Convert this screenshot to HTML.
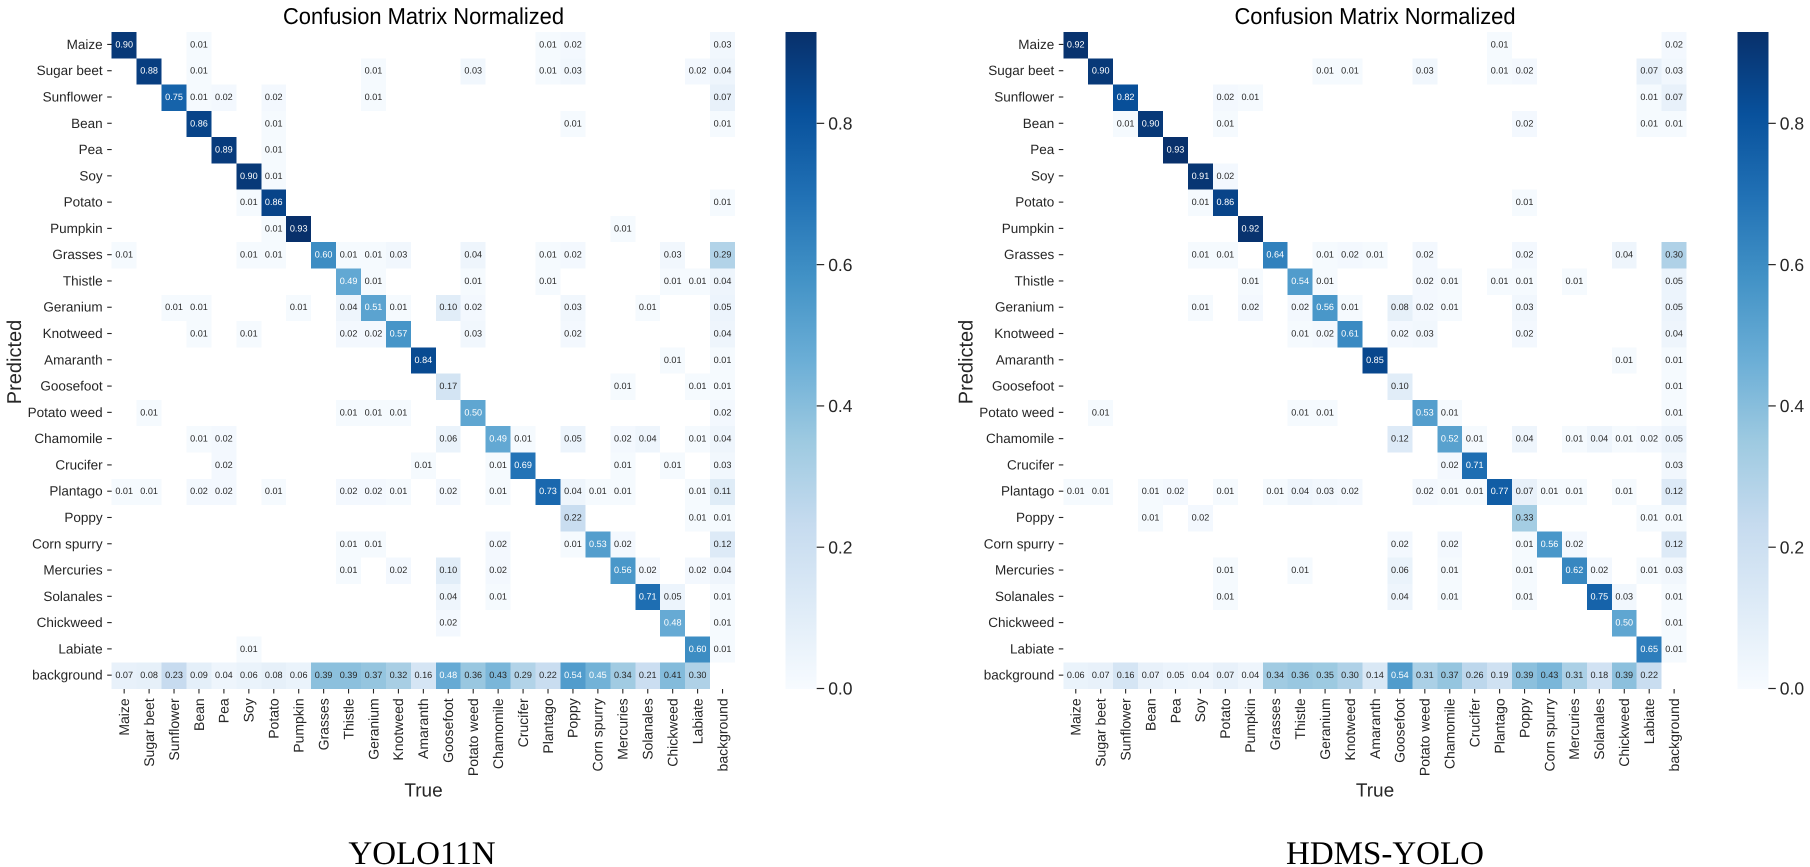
<!DOCTYPE html>
<html lang="en">
<head>
<meta charset="utf-8">
<title>Confusion matrices: YOLO11N and HDMS-YOLO</title>
<style>
html,body{margin:0;padding:0;background:#fff;width:1810px;height:867px;overflow:hidden}
svg{display:block;text-rendering:geometricPrecision}
text{font-family:"Liberation Sans",Arial,sans-serif;fill:#262626}
.title{fill:#000}
.cap{font-family:"Liberation Serif","Times New Roman",serif;font-size:33px;fill:#000}
</style>
</head>
<body>
<svg id="figure" xmlns="http://www.w3.org/2000/svg" width="1810" height="867" viewBox="0 0 1810 867">
  <rect x="0" y="0" width="1810" height="867" fill="#ffffff"/>
  <defs>
    <linearGradient id="blues" x1="0" y1="1" x2="0" y2="0"></linearGradient>
  </defs>
  <g id="chart-left">
    <text class="title" x="423.5" y="24" text-anchor="middle" font-size="23" textLength="281" lengthAdjust="spacingAndGlyphs">Confusion Matrix Normalized</text>
    <text x="423.5" y="796.5" text-anchor="middle" font-size="19">True</text>
    <text transform="translate(21,362) rotate(-90)" text-anchor="middle" font-size="20">Predicted</text>
    <text class="cap" x="422" y="864" text-anchor="middle">YOLO11N</text>
  </g>
  <g id="chart-right">
    <text class="title" x="1375" y="24" text-anchor="middle" font-size="23" textLength="281" lengthAdjust="spacingAndGlyphs">Confusion Matrix Normalized</text>
    <text x="1375" y="796.5" text-anchor="middle" font-size="19">True</text>
    <text transform="translate(972.6,362) rotate(-90)" text-anchor="middle" font-size="20">Predicted</text>
    <text class="cap" x="1385" y="864" text-anchor="middle">HDMS-YOLO</text>
  </g>
</svg>
<script>
const categories = ["Maize","Sugar beet","Sunflower","Bean","Pea","Soy","Potato","Pumpkin","Grasses","Thistle","Geranium","Knotweed","Amaranth","Goosefoot","Potato weed","Chamomile","Crucifer","Plantago","Poppy","Corn spurry","Mercuries","Solanales","Chickweed","Labiate","background"];
const colorbarTicks = [0, 0.2, 0.4, 0.6, 0.8];
const colorMax = 0.93;
const bluesStops = ["#f7fbff","#deebf7","#c6dbef","#9ecae1","#6baed6","#4292c6","#2171b5","#08519c","#08306b"];

const yoloMatrix = [
[.90,0,0,.01,0,0,0,0,0,0,0,0,0,0,0,0,0,.01,.02,0,0,0,0,0,.03],
[0,.88,0,.01,0,0,0,0,0,0,.01,0,0,0,.03,0,0,.01,.03,0,0,0,0,.02,.04],
[0,0,.75,.01,.02,0,.02,0,0,0,.01,0,0,0,0,0,0,0,0,0,0,0,0,0,.07],
[0,0,0,.86,0,0,.01,0,0,0,0,0,0,0,0,0,0,0,.01,0,0,0,0,0,.01],
[0,0,0,0,.89,0,.01,0,0,0,0,0,0,0,0,0,0,0,0,0,0,0,0,0,0],
[0,0,0,0,0,.90,.01,0,0,0,0,0,0,0,0,0,0,0,0,0,0,0,0,0,0],
[0,0,0,0,0,.01,.86,0,0,0,0,0,0,0,0,0,0,0,0,0,0,0,0,0,.01],
[0,0,0,0,0,0,.01,.93,0,0,0,0,0,0,0,0,0,0,0,0,.01,0,0,0,0],
[.01,0,0,0,0,.01,.01,0,.60,.01,.01,.03,0,0,.04,0,0,.01,.02,0,0,0,.03,0,.29],
[0,0,0,0,0,0,0,0,0,.49,.01,0,0,0,.01,0,0,.01,0,0,0,0,.01,.01,.04],
[0,0,.01,.01,0,0,0,.01,0,.04,.51,.01,0,.10,.02,0,0,0,.03,0,0,.01,0,0,.05],
[0,0,0,.01,0,.01,0,0,0,.02,.02,.57,0,0,.03,0,0,0,.02,0,0,0,0,0,.04],
[0,0,0,0,0,0,0,0,0,0,0,0,.84,0,0,0,0,0,0,0,0,0,.01,0,.01],
[0,0,0,0,0,0,0,0,0,0,0,0,0,.17,0,0,0,0,0,0,.01,0,0,.01,.01],
[0,.01,0,0,0,0,0,0,0,.01,.01,.01,0,0,.50,0,0,0,0,0,0,0,0,0,.02],
[0,0,0,.01,.02,0,0,0,0,0,0,0,0,.06,0,.49,.01,0,.05,0,.02,.04,0,.01,.04],
[0,0,0,0,.02,0,0,0,0,0,0,0,.01,0,0,.01,.69,0,0,0,.01,0,.01,0,.03],
[.01,.01,0,.02,.02,0,.01,0,0,.02,.02,.01,0,.02,0,.01,0,.73,.04,.01,.01,0,0,.01,.11],
[0,0,0,0,0,0,0,0,0,0,0,0,0,0,0,0,0,0,.22,0,0,0,0,.01,.01],
[0,0,0,0,0,0,0,0,0,.01,.01,0,0,0,0,.02,0,0,.01,.53,.02,0,0,0,.12],
[0,0,0,0,0,0,0,0,0,.01,0,.02,0,.10,0,.02,0,0,0,0,.56,.02,0,.02,.04],
[0,0,0,0,0,0,0,0,0,0,0,0,0,.04,0,.01,0,0,0,0,0,.71,.05,0,.01],
[0,0,0,0,0,0,0,0,0,0,0,0,0,.02,0,0,0,0,0,0,0,0,.48,0,.01],
[0,0,0,0,0,.01,0,0,0,0,0,0,0,0,0,0,0,0,0,0,0,0,0,.60,.01],
[.07,.08,.23,.09,.04,.06,.08,.06,.39,.39,.37,.32,.16,.48,.36,.43,.29,.22,.54,.45,.34,.21,.41,.30,0]
];

const hdmsMatrix = [
[.92,0,0,0,0,0,0,0,0,0,0,0,0,0,0,0,0,.01,0,0,0,0,0,0,.02],
[0,.90,0,0,0,0,0,0,0,0,.01,.01,0,0,.03,0,0,.01,.02,0,0,0,0,.07,.03],
[0,0,.82,0,0,0,.02,.01,0,0,0,0,0,0,0,0,0,0,0,0,0,0,0,.01,.07],
[0,0,.01,.90,0,0,.01,0,0,0,0,0,0,0,0,0,0,0,.02,0,0,0,0,.01,.01],
[0,0,0,0,.93,0,0,0,0,0,0,0,0,0,0,0,0,0,0,0,0,0,0,0,0],
[0,0,0,0,0,.91,.02,0,0,0,0,0,0,0,0,0,0,0,0,0,0,0,0,0,0],
[0,0,0,0,0,.01,.86,0,0,0,0,0,0,0,0,0,0,0,.01,0,0,0,0,0,0],
[0,0,0,0,0,0,0,.92,0,0,0,0,0,0,0,0,0,0,0,0,0,0,0,0,0],
[0,0,0,0,0,.01,.01,0,.64,0,.01,.02,.01,0,.02,0,0,0,.02,0,0,0,.04,0,.30],
[0,0,0,0,0,0,0,.01,0,.54,.01,0,0,0,.02,.01,0,.01,.01,0,.01,0,0,0,.05],
[0,0,0,0,0,.01,0,.02,0,.02,.56,.01,0,.08,.02,.01,0,0,.03,0,0,0,0,0,.05],
[0,0,0,0,0,0,0,0,0,.01,.02,.61,0,.02,.03,0,0,0,.02,0,0,0,0,0,.04],
[0,0,0,0,0,0,0,0,0,0,0,0,.85,0,0,0,0,0,0,0,0,0,.01,0,.01],
[0,0,0,0,0,0,0,0,0,0,0,0,0,.10,0,0,0,0,0,0,0,0,0,0,.01],
[0,.01,0,0,0,0,0,0,0,.01,.01,0,0,0,.53,.01,0,0,0,0,0,0,0,0,.01],
[0,0,0,0,0,0,0,0,0,0,0,0,0,.12,0,.52,.01,0,.04,0,.01,.04,.01,.02,.05],
[0,0,0,0,0,0,0,0,0,0,0,0,0,0,0,.02,.71,0,0,0,0,0,0,0,.03],
[.01,.01,0,.01,.02,0,.01,0,.01,.04,.03,.02,0,0,.02,.01,.01,.77,.07,.01,.01,0,.01,0,.12],
[0,0,0,.01,0,.02,0,0,0,0,0,0,0,0,0,0,0,0,.33,0,0,0,0,.01,.01],
[0,0,0,0,0,0,0,0,0,0,0,0,0,.02,0,.02,0,0,.01,.56,.02,0,0,0,.12],
[0,0,0,0,0,0,.01,0,0,.01,0,0,0,.06,0,.01,0,0,.01,0,.62,.02,0,.01,.03],
[0,0,0,0,0,0,.01,0,0,0,0,0,0,.04,0,.01,0,0,.01,0,0,.75,.03,0,.01],
[0,0,0,0,0,0,0,0,0,0,0,0,0,0,0,0,0,0,0,0,0,0,.50,0,.01],
[0,0,0,0,0,0,0,0,0,0,0,0,0,0,0,0,0,0,0,0,0,0,0,.65,.01],
[.06,.07,.16,.07,.05,.04,.07,.04,.34,.36,.35,.30,.14,.54,.31,.37,.26,.19,.39,.43,.31,.18,.39,.22,0]
];

const SVG_NS = "http://www.w3.org/2000/svg";
const plotTop = 32, plotBottom = 689, plotWidth = 623.3;

function hexToRgb(h) {
  return [parseInt(h.slice(1,3),16), parseInt(h.slice(3,5),16), parseInt(h.slice(5,7),16)];
}
function bluesColor(v) {
  const t = Math.max(0, Math.min(1, v / colorMax)) * (bluesStops.length - 1);
  const i = Math.min(Math.floor(t), bluesStops.length - 2);
  const a = hexToRgb(bluesStops[i]), b = hexToRgb(bluesStops[i + 1]), f = t - i;
  return "rgb(" + a.map((c, k) => Math.round(c + (b[k] - c) * f)).join(",") + ")";
}
function make(tag, attrs, parent, content) {
  const el = document.createElementNS(SVG_NS, tag);
  for (const k in attrs) el.setAttribute(k, attrs[k]);
  if (content !== undefined) el.textContent = content;
  parent.appendChild(el);
  return el;
}

const gradient = document.getElementById("blues");
bluesStops.forEach((color, i) => {
  make("stop", { offset: i / (bluesStops.length - 1), "stop-color": color }, gradient);
});

function drawChart(groupId, matrix, plotLeft, prefix) {
  const g = document.getElementById(groupId);
  const n = categories.length;
  const xScale = i => plotLeft + i * plotWidth / n;
  const yScale = i => plotTop + i * (plotBottom - plotTop) / n;
  const cellW = plotWidth / n, cellH = (plotBottom - plotTop) / n;

  matrix.forEach((row, r) => {
    row.forEach((value, c) => {
      if (!value) return;
      const cell = make("rect", {
        x: xScale(c), y: yScale(r), width: cellW, height: cellH,
        fill: bluesColor(value), "shape-rendering": "crispEdges"
      }, g);
      
      
      const label = make("text", {
        x: xScale(c) + cellW / 2, y: yScale(r) + cellH / 2 + 2.3,
        "text-anchor": "middle", "font-size": 9.1,
        style: "fill:" + (value >= 0.45 ? "#ffffff" : "#262626")
      }, g, value.toFixed(2));
      
      
    });
  });

  categories.forEach((name, i) => {
    const yMid = yScale(i) + cellH / 2, xMid = xScale(i) + cellW / 2;
    const yTick = make("line", { x1: plotLeft - 4.5, x2: plotLeft, y1: yMid - 0.7, y2: yMid - 0.7, stroke: "#262626", "stroke-width": 1.1 }, g);
    
    
    const yLabel = make("text", { x: plotLeft - 9, y: yMid + 3.8, "text-anchor": "end", "font-size": 13.5 }, g, name);
    
    
    const xTick = make("line", { x1: xMid, x2: xMid, y1: plotBottom, y2: plotBottom + 4.5, stroke: "#262626", "stroke-width": 1.1 }, g);
    
    
    const xLabel = make("text", {
      transform: "translate(" + (xMid + 4.8) + "," + (plotBottom + 9.3) + ") rotate(-90)",
      "text-anchor": "end", "font-size": 14
    }, g, name);
    
    
  });

  const barLeft = plotLeft + 674, barWidth = 31;
  const bar = make("rect", {
    x: barLeft, y: plotTop, width: barWidth, height: plotBottom - plotTop,
    fill: "url(#blues)", "shape-rendering": "crispEdges"
  }, g);
  
  
  const barScale = v => plotBottom - (v / colorMax) * (plotBottom - plotTop);
  colorbarTicks.forEach(v => {
    const y = barScale(v) - 0.5;
    const tick = make("line", { x1: barLeft + barWidth, x2: barLeft + barWidth + 7.5, y1: y, y2: y, stroke: "#262626", "stroke-width": 1.2 }, g);
    
    
    const label = make("text", { x: barLeft + barWidth + 11.5, y: y + 6.2, "font-size": 17.5 }, g, v.toFixed(1));
    
    
  });
}

drawChart("chart-left", yoloMatrix, 111.7, "yolo11n");
drawChart("chart-right", hdmsMatrix, 1063.3, "hdms-yolo");
</script>
</body>
</html>
